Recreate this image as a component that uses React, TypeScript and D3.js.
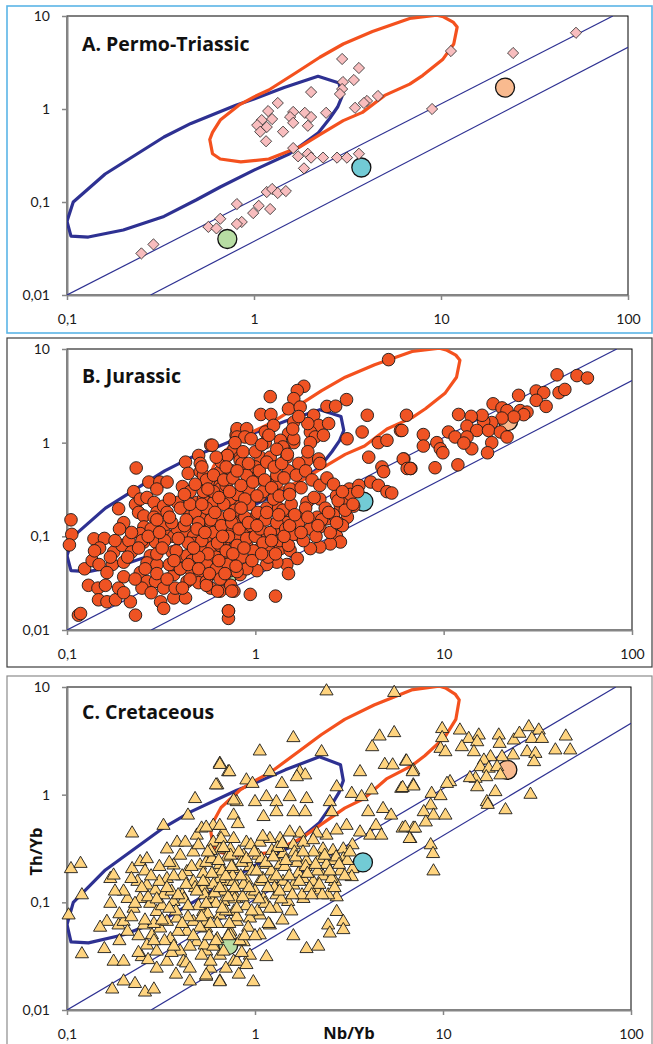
import { useEffect, useRef } from 'react';
import * as d3 from 'd3';

// Axis ticks (Excel style, comma decimals)
const X_TICKS = [0.1, 1, 10, 100];
const Y_TICKS = [0.01, 0.1, 1, 10];

// Outlined fields [Nb/Yb, Th/Yb]
const BLUE_FIELD: [number, number][] = [
  [0.1, 0.062], [0.108, 0.1], [0.16, 0.2], [0.33, 0.5], [0.46, 0.7], [0.8, 1.1], [1.0, 1.28],
  [1.45, 1.7], [2.2, 2.25], [2.85, 1.9], [2.95, 1.35], [2.8, 1.05], [2.55, 0.8], [2.2, 0.55],
  [1.55, 0.33], [1.0, 0.22], [0.66, 0.145], [0.49, 0.105], [0.33, 0.07], [0.2, 0.05],
  [0.13, 0.042], [0.105, 0.043],
];
const ORANGE_FIELD: [number, number][] = [
  [0.58, 0.47], [0.6, 0.56], [0.66, 0.76], [0.83, 1.1], [1.0, 1.35], [1.2, 1.6], [1.7, 2.5],
  [2.25, 3.6], [3.0, 5.0], [4.3, 6.8], [6.8, 9.4], [9.5, 10.2], [10.3, 9.8], [11.6, 8.6],
  [12.2, 7.6], [11.7, 5.0], [10.2, 3.4], [8.0, 2.3], [6.8, 1.85], [5.0, 1.4], [3.8, 0.92],
  [3.0, 0.75], [2.25, 0.53], [1.75, 0.39], [1.2, 0.29], [0.85, 0.27], [0.66, 0.29], [0.6, 0.33],
];
// MORB-OIB array boundaries
const ARRAY_UPPER: [number, number][] = [[0.1, 0.01], [83, 10]];
const ARRAY_LOWER: [number, number][] = [[0.28, 0.01], [100, 4.6]];

// reference compositions
const REFERENCES = [
  { name: 'N-MORB', nb: 0.72, th: 0.04, fill: '#B7DDA3' },
  { name: 'E-MORB', nb: 3.75, th: 0.235, fill: '#72CBD5' },
  { name: 'OIB', nb: 22, th: 1.7, fill: '#F9BA8F' },
];

const PERMO_TRIASSIC: [number, number][] = [
  [2.96, 3.45], [3.64, 2.76], [2.99, 1.95], [3.42, 2.05], [2.96, 1.64], [2.88, 1.45], [4.6, 1.38],
  [4.02, 1.22], [3.87, 1.16], [3.47, 1.03], [2.02, 1.52], [1.34, 1.16], [1.19, 0.95], [1.62, 0.93],
  [1.87, 0.91], [2.43, 0.91], [2.02, 0.82], [1.56, 0.82], [1.1, 0.76], [1.25, 0.78], [1.04, 0.67],
  [1.17, 0.64], [1.62, 0.71], [1.94, 0.66], [1.08, 0.57], [1.43, 0.57], [1.16, 0.45], [1.62, 0.38],
  [1.72, 0.31], [1.94, 0.33], [2.02, 0.3], [2.34, 0.3], [2.78, 0.3], [3.14, 0.3], [3.64, 0.33],
  [1.85, 0.23], [1.17, 0.128], [1.25, 0.138], [1.34, 0.125], [1.48, 0.131], [0.81, 0.095],
  [1.06, 0.091], [1.22, 0.084], [0.99, 0.076], [0.86, 0.061], [0.81, 0.058], [0.66, 0.066],
  [0.57, 0.054], [0.63, 0.052], [0.29, 0.035], [0.25, 0.028], [11.3, 4.2], [24.3, 4.0],
  [52.7, 6.6], [8.96, 1.0],
];

const JURASSIC: [number, number][] = [
  // low Nb/Yb
  [0.105, 0.15], [0.106, 0.105], [0.103, 0.081], [0.115, 0.0144], [0.118, 0.015], [0.139, 0.094],
  [0.158, 0.095], [0.149, 0.075], [0.124, 0.045], [0.136, 0.055], [0.148, 0.05], [0.13, 0.03],
  [0.146, 0.028], [0.147, 0.021], [0.163, 0.02], [0.181, 0.021], [0.177, 0.068], [0.174, 0.05],
  [0.163, 0.041], [0.188, 0.197], [0.196, 0.08], [0.2, 0.053], [0.2, 0.037], [0.188, 0.028],
  [0.217, 0.02], [0.231, 0.0144], [0.213, 0.09], [0.22, 0.068], [0.233, 0.537], [0.226, 0.3],
  [0.231, 0.22], [0.245, 0.25], [0.266, 0.26], [0.272, 0.38], [0.311, 0.38], [0.34, 0.38],
  [0.24, 0.18], [0.256, 0.165], [0.29, 0.23], [0.3, 0.18], [0.326, 0.21], [0.34, 0.18],
  [0.256, 0.126], [0.245, 0.107], [0.29, 0.16], [0.326, 0.126], [0.347, 0.1], [0.256, 0.087],
  [0.295, 0.087], [0.277, 0.062], [0.266, 0.052], [0.3, 0.05], [0.245, 0.041], [0.266, 0.033],
  [0.25, 0.028], [0.295, 0.033], [0.326, 0.028], [0.314, 0.02], [0.326, 0.017], [0.369, 0.022],
  [0.375, 0.028], [0.426, 0.022], [0.369, 0.039], [0.4, 0.045], [0.362, 0.05], [0.362, 0.068],
  [0.4, 0.062], [0.369, 0.1], [0.385, 0.12], [0.434, 0.11], [0.385, 0.23], [0.41, 0.34],
  [0.426, 0.62], [0.44, 0.47], [0.5, 0.73], [0.51, 0.6], [0.58, 0.94], [0.51, 0.49], [0.53, 0.38],
  [0.58, 0.36], [0.65, 0.35], [0.65, 0.49], [0.66, 0.62], [0.71, 0.73], [0.77, 0.86], [0.8, 1.35],
  [0.79, 1.2], [0.83, 0.7], [0.45, 0.3], [0.49, 0.23], [0.53, 0.25], [0.59, 0.3], [0.66, 0.28],
  [0.74, 0.25], [0.77, 0.2], [0.45, 0.165], [0.53, 0.16], [0.59, 0.165], [0.65, 0.16], [0.74, 0.16],
  [0.82, 0.16], [0.47, 0.1], [0.51, 0.13], [0.58, 0.126], [0.65, 0.1], [0.74, 0.12], [0.8, 0.1],
  [0.47, 0.084], [0.53, 0.074], [0.59, 0.077], [0.68, 0.084], [0.77, 0.074], [0.434, 0.062],
  [0.49, 0.06], [0.55, 0.053], [0.62, 0.06], [0.71, 0.053], [0.8, 0.058], [0.45, 0.045],
  [0.51, 0.039], [0.59, 0.04], [0.68, 0.035], [0.74, 0.043], [0.83, 0.039], [0.434, 0.033],
  [0.5, 0.032], [0.58, 0.028], [0.65, 0.026], [0.74, 0.03], [0.77, 0.026], [0.72, 0.016],
  [0.72, 0.0133],
  // middle Nb/Yb
  [5.1, 7.7], [1.81, 4.0], [1.67, 3.6], [1.6, 2.95], [1.2, 3.1], [1.5, 2.3], [1.73, 2.4], [2.4, 2.44],
  [2.67, 2.45], [3.05, 2.88], [3.93, 1.96], [6.35, 1.96], [1.07, 2.0], [1.21, 2.0], [0.8, 1.41],
  [0.9, 1.41], [0.8, 1.15], [0.88, 1.15], [1.13, 1.3], [1.13, 1.0], [1.25, 1.53], [1.6, 1.66],
  [1.5, 1.25], [1.36, 1.06], [1.6, 1.0], [2.04, 1.96], [2.17, 1.53], [2.45, 1.6], [1.96, 1.3],
  [2.08, 1.15], [1.96, 1.0], [3.07, 1.1], [3.69, 1.3], [5.9, 1.35], [0.59, 0.94], [0.71, 0.73],
  [0.83, 0.65], [1.06, 0.7], [1.42, 0.86], [1.47, 0.7], [1.88, 0.65], [2.17, 0.67], [2.2, 0.6],
  [4.0, 0.7], [4.5, 1.0], [5.0, 1.06], [6.15, 0.67], [6.7, 0.53], [4.7, 0.55], [4.8, 0.49],
  [0.94, 0.49], [1.06, 0.41], [1.23, 0.38], [0.92, 0.32], [1.06, 0.27], [1.53, 0.32], [1.3, 0.37],
  [0.75, 0.43], [0.65, 0.32], [0.53, 0.45], [0.53, 0.3], [0.6, 0.23], [0.74, 0.25], [0.83, 0.21],
  [0.8, 0.16], [0.98, 0.155], [1.15, 0.2], [1.33, 0.2], [1.53, 0.17], [1.88, 0.23], [2.2, 0.25],
  [2.7, 0.27], [3.15, 0.32], [3.55, 0.35], [4.1, 0.38], [4.5, 0.35], [5.0, 0.3], [5.3, 0.29],
  [2.83, 0.21], [3.15, 0.24], [3.33, 0.21], [3.08, 0.16], [2.78, 0.137], [2.7, 0.1], [2.83, 0.087],
  [2.5, 0.083], [2.2, 0.077], [1.96, 0.074], [1.74, 0.1], [1.96, 0.12], [2.2, 0.126], [2.4, 0.154],
  [2.13, 0.16], [1.81, 0.165], [1.67, 0.13], [1.47, 0.14], [1.3, 0.12], [1.1, 0.1], [0.98, 0.11],
  [0.87, 0.12], [0.77, 0.14], [0.65, 0.12], [0.58, 0.14], [0.55, 0.1], [0.65, 0.08], [0.77, 0.074],
  [0.9, 0.08], [1.06, 0.074], [1.2, 0.077], [1.36, 0.074], [1.53, 0.071], [1.67, 0.058],
  [1.47, 0.05], [1.3, 0.053], [1.15, 0.05], [1.02, 0.043], [0.9, 0.045], [0.8, 0.042], [0.71, 0.05],
  [0.62, 0.042], [0.55, 0.033], [0.63, 0.026], [0.75, 0.026], [0.94, 0.024], [1.28, 0.023],
  [1.5, 0.04], [0.72, 0.016],
  // dense core
  [0.28, 0.12], [0.3, 0.15], [0.33, 0.09], [0.36, 0.14], [0.38, 0.07], [0.4, 0.2], [0.42, 0.13],
  [0.44, 0.085], [0.46, 0.055], [0.48, 0.18], [0.5, 0.14], [0.52, 0.09], [0.55, 0.2], [0.56, 0.065],
  [0.58, 0.15], [0.6, 0.11], [0.62, 0.045], [0.63, 0.085], [0.66, 0.13], [0.68, 0.22], [0.7, 0.07],
  [0.72, 0.1], [0.75, 0.14], [0.78, 0.19], [0.8, 0.08], [0.82, 0.12], [0.85, 0.06], [0.88, 0.16],
  [0.9, 0.095], [0.93, 0.22], [0.95, 0.13], [0.98, 0.07], [1.0, 0.1], [1.03, 0.18], [1.06, 0.12],
  [1.1, 0.085], [1.13, 0.15], [1.17, 0.06], [1.2, 0.11], [1.25, 0.25], [1.3, 0.14], [1.35, 0.09],
  [1.4, 0.19], [1.45, 0.12], [1.5, 0.08], [1.55, 0.22], [1.6, 0.105], [1.7, 0.14], [1.8, 0.09],
  [1.85, 0.2], [1.95, 0.12], [2.05, 0.26], [2.1, 0.1], [2.25, 0.15], [2.35, 0.2], [2.5, 0.11],
  [2.6, 0.17], [2.75, 0.24], [2.9, 0.13], [3.0, 0.19], [3.2, 0.28], [0.35, 0.05], [0.45, 0.035],
  [0.55, 0.03], [0.65, 0.035], [0.3, 0.065], [0.4, 0.045], [0.5, 0.06], [0.25, 0.09], [0.22, 0.11],
  [0.2, 0.14], [0.18, 0.09], [0.6, 0.3], [0.7, 0.35], [0.8, 0.28], [0.9, 0.45], [1.0, 0.55],
  [1.1, 0.3], [1.2, 0.7], [1.4, 0.9], [1.6, 1.1], [0.85, 0.6], [0.75, 0.5], [0.55, 0.4],
  [0.45, 0.22], [0.35, 0.25], [0.3, 0.32], [1.3, 0.45], [1.5, 0.5], [1.7, 0.6], [1.9, 0.8],
  [0.42, 0.28], [0.48, 0.36], [0.52, 0.55], [0.56, 0.32], [0.6, 0.45], [0.62, 0.7], [0.64, 0.26],
  [0.68, 0.4], [0.7, 0.55], [0.73, 0.3], [0.76, 0.42], [0.78, 1.0], [0.8, 0.5], [0.84, 0.35],
  [0.86, 0.8], [0.88, 0.25], [0.92, 0.6], [0.95, 1.1], [0.97, 0.38], [1.0, 0.8], [1.02, 0.27],
  [1.05, 0.5], [1.08, 0.95], [1.12, 0.4], [1.15, 0.62], [1.18, 1.2], [1.22, 0.33], [1.26, 0.55],
  [1.3, 0.85], [1.34, 0.27], [1.38, 0.6], [1.42, 0.42], [1.48, 0.75], [1.52, 0.28], [1.58, 1.4],
  [1.65, 0.45], [1.75, 0.33], [1.85, 0.5], [2.0, 0.4], [2.2, 0.35], [2.4, 0.42], [2.6, 0.36],
  [1.9, 1.6], [2.3, 1.2], [1.7, 1.9],
  [0.21, 0.06], [0.23, 0.035], [0.24, 0.075], [0.26, 0.045], [0.27, 0.1], [0.28, 0.025], [0.3, 0.04],
  [0.31, 0.11], [0.32, 0.075], [0.34, 0.035], [0.35, 0.16], [0.37, 0.055], [0.39, 0.095],
  [0.41, 0.028], [0.43, 0.15], [0.44, 0.05], [0.47, 0.075], [0.49, 0.12], [0.5, 0.045], [0.52, 0.22],
  [0.54, 0.11], [0.57, 0.04], [0.61, 0.18], [0.64, 0.055], [0.67, 0.1], [0.69, 0.04], [0.73, 0.17],
  [0.76, 0.065], [0.79, 0.048], [0.84, 0.2], [0.87, 0.075], [0.92, 0.14], [0.96, 0.055], [1.02, 0.13],
  [1.08, 0.065], [1.15, 0.18], [1.22, 0.09], [1.28, 0.065], [1.33, 0.17], [1.42, 0.1], [1.52, 0.13],
  [1.62, 0.17], [1.75, 0.11], [1.9, 0.16], [2.15, 0.13], [2.45, 0.18], [2.7, 0.14], [3.3, 0.22],
  [3.5, 0.3], [2.9, 0.3], [0.19, 0.12], [0.17, 0.06], [0.16, 0.03], [0.2, 0.025], [0.14, 0.07],
  // high Nb/Yb
  [40, 5.3], [51, 5.2], [58, 4.9], [31, 3.56], [34, 3.42], [41, 3.42], [44, 3.7], [31, 2.83],
  [35, 2.44], [25, 3.2], [18.3, 2.6], [20.4, 2.35], [21.7, 2.2], [25.5, 2.2], [27.7, 2.12],
  [26.6, 1.99], [23.6, 1.88], [20.4, 1.83], [18, 1.64], [16.3, 1.69], [16, 1.96], [14, 1.91],
  [12, 2.0], [13.3, 1.5], [15, 1.35], [17.3, 1.35], [20, 1.3], [21.7, 1.15], [10.6, 1.3],
  [11.5, 1.15], [13.3, 1.15], [14.1, 0.86], [12.8, 0.99], [7.8, 1.22], [7.8, 0.92], [9.2, 1.0],
  [9.6, 0.86], [9.9, 0.78], [18, 1.0], [17.1, 0.78], [9.0, 0.54], [11.9, 0.58], [6.0, 1.35],
  [6.1, 0.67], [6.4, 0.53], [6.65, 0.53],
];

const CRETACEOUS: [number, number][] = [
  // low Nb/Yb
  [0.105, 0.21], [0.118, 0.235], [0.12, 0.12], [0.102, 0.078], [0.12, 0.034], [0.222, 0.45],
  [0.17, 0.17], [0.177, 0.183], [0.163, 0.068], [0.188, 0.063], [0.2, 0.068], [0.158, 0.038],
  [0.177, 0.029], [0.2, 0.029], [0.174, 0.016], [0.2, 0.019], [0.23, 0.018], [0.26, 0.015],
  [0.29, 0.016], [0.21, 0.111], [0.226, 0.09], [0.245, 0.111], [0.222, 0.21], [0.245, 0.244],
  [0.266, 0.26], [0.237, 0.16], [0.266, 0.148], [0.295, 0.133], [0.277, 0.1], [0.3, 0.084],
  [0.256, 0.063], [0.283, 0.051], [0.266, 0.041], [0.3, 0.036], [0.313, 0.059], [0.326, 0.53],
  [0.34, 0.32], [0.385, 0.37], [0.426, 0.37], [0.369, 0.227], [0.34, 0.17], [0.434, 0.197],
  [0.326, 0.12], [0.369, 0.104], [0.41, 0.12], [0.34, 0.068], [0.385, 0.073], [0.434, 0.055],
  [0.355, 0.047], [0.4, 0.036], [0.416, 0.029], [0.34, 0.029], [0.47, 0.16], [0.51, 0.227],
  [0.49, 0.43], [0.44, 0.66], [0.48, 0.94], [0.52, 0.5], [0.63, 1.26], [0.65, 2.0], [0.72, 1.67],
  [0.6, 0.53], [0.6, 0.37], [0.58, 0.28], [0.53, 0.138], [0.6, 0.104], [0.53, 0.084], [0.47, 0.068],
  [0.55, 0.059], [0.49, 0.044], [0.55, 0.036], [0.45, 0.019], [0.55, 0.021], [0.65, 0.019],
  [0.58, 0.025], [0.65, 0.21], [0.71, 0.16], [0.77, 0.12], [0.77, 0.084], [0.74, 0.055],
  [0.65, 0.033], [0.77, 0.029], [0.8, 0.88], [0.77, 0.66], [0.74, 0.32], [0.68, 0.46],
  // middle Nb/Yb
  [2.4, 9.4], [5.5, 9.1], [1.6, 3.46], [1.06, 2.6], [2.26, 2.56], [4.6, 3.58], [5.5, 3.85],
  [4.2, 2.85], [4.9, 1.95], [5.4, 1.93], [6.35, 2.1], [6.95, 1.73], [0.65, 1.95], [0.73, 1.67],
  [0.62, 1.26], [1.2, 1.67], [0.9, 1.4], [0.97, 1.3], [1.73, 1.67], [1.85, 1.56], [1.67, 1.5],
  [1.39, 1.3], [3.62, 1.67], [2.72, 1.21], [3.27, 1.05], [3.69, 0.98], [4.17, 1.13], [6.0, 1.17],
  [6.95, 1.26], [0.77, 0.91], [1.0, 0.88], [1.15, 0.98], [1.3, 0.88], [1.53, 0.98], [1.88, 0.94],
  [1.85, 0.71], [2.5, 0.88], [2.56, 0.71], [1.6, 0.71], [1.3, 0.71], [1.11, 0.64], [0.81, 0.55],
  [0.65, 0.53], [0.55, 0.51], [4.0, 0.71], [4.8, 0.76], [5.3, 0.66], [4.4, 0.53], [4.1, 0.43],
  [4.7, 0.43], [6.1, 0.5], [6.95, 0.5], [6.7, 0.4], [3.62, 0.46], [3.07, 0.53], [2.72, 0.48],
  [2.4, 0.43], [2.13, 0.45], [1.73, 0.45], [1.53, 0.46], [1.36, 0.4], [1.2, 0.4], [1.06, 0.37],
  [0.9, 0.37], [0.77, 0.4], [0.65, 0.32], [0.58, 0.31], [0.71, 0.27], [0.87, 0.28], [1.04, 0.28],
  [1.23, 0.31], [1.41, 0.29], [1.6, 0.35], [1.81, 0.37], [2.04, 0.39], [2.3, 0.32], [2.6, 0.31],
  [2.95, 0.32], [3.3, 0.35], [2.95, 0.26], [2.6, 0.25], [2.2, 0.26], [1.88, 0.25], [1.67, 0.24],
  [1.36, 0.23], [1.15, 0.23], [0.94, 0.22], [0.77, 0.21], [0.65, 0.23], [0.55, 0.24], [3.3, 0.21],
  [3.27, 0.177], [2.66, 0.16], [2.3, 0.18], [2.04, 0.16], [1.81, 0.17], [1.6, 0.148], [1.41, 0.16],
  [1.23, 0.17], [1.06, 0.16], [0.9, 0.165], [0.77, 0.16], [0.65, 0.17], [0.55, 0.16], [2.72, 0.115],
  [2.45, 0.12], [2.13, 0.133], [1.81, 0.111], [1.5, 0.104], [1.3, 0.12], [1.11, 0.111], [0.94, 0.12],
  [0.8, 0.111], [0.68, 0.104], [0.58, 0.111], [2.72, 0.084], [2.95, 0.068], [2.45, 0.063],
  [2.5, 0.053], [2.95, 0.057], [1.88, 0.038], [2.17, 0.04], [1.3, 0.09], [1.06, 0.078], [1.2, 0.063],
  [0.94, 0.073], [0.8, 0.068], [0.65, 0.078], [0.55, 0.068], [1.06, 0.051], [0.87, 0.044],
  [0.74, 0.051], [0.63, 0.047], [0.54, 0.041], [1.15, 0.032], [0.94, 0.033], [0.8, 0.029],
  [0.68, 0.036], [0.58, 0.029], [0.55, 0.0216], [0.65, 0.0187], [0.82, 0.022], [0.98, 0.0187],
  [0.9, 0.027],
  // dense core
  [0.2, 0.13], [0.22, 0.075], [0.24, 0.05], [0.26, 0.2], [0.27, 0.115], [0.29, 0.065], [0.31, 0.16],
  [0.32, 0.095], [0.33, 0.045], [0.35, 0.24], [0.36, 0.13], [0.38, 0.085], [0.39, 0.055], [0.41, 0.18],
  [0.42, 0.11], [0.44, 0.075], [0.45, 0.04], [0.47, 0.3], [0.48, 0.14], [0.5, 0.095], [0.51, 0.06],
  [0.53, 0.19], [0.54, 0.12], [0.56, 0.08], [0.57, 0.05], [0.59, 0.26], [0.6, 0.15], [0.62, 0.1],
  [0.63, 0.065], [0.66, 0.4], [0.67, 0.2], [0.69, 0.13], [0.7, 0.085], [0.72, 0.05], [0.74, 0.28],
  [0.76, 0.18], [0.78, 0.11], [0.8, 0.075], [0.83, 0.045], [0.85, 0.24], [0.87, 0.15], [0.9, 0.095],
  [0.92, 0.06], [0.95, 0.35], [0.97, 0.2], [1.0, 0.13], [1.03, 0.085], [1.08, 0.26], [1.1, 0.17],
  [1.13, 0.1], [1.18, 0.065], [1.22, 0.2], [1.27, 0.14], [1.32, 0.33], [1.38, 0.11], [1.44, 0.22],
  [1.5, 0.14], [1.56, 0.085], [1.62, 0.3], [1.7, 0.19], [1.78, 0.12], [1.86, 0.22], [1.95, 0.14],
  [2.05, 0.3], [2.15, 0.2], [2.28, 0.12], [2.4, 0.23], [2.55, 0.17], [2.7, 0.27], [2.85, 0.2],
  [3.1, 0.25], [0.17, 0.1], [0.15, 0.06], [0.19, 0.045], [0.25, 0.032], [0.3, 0.025], [0.36, 0.035],
  [0.43, 0.028], [0.52, 0.033], [0.6, 0.04],
  [0.18, 0.13], [0.19, 0.08], [0.21, 0.055], [0.22, 0.17], [0.23, 0.1], [0.24, 0.035], [0.25, 0.14],
  [0.26, 0.07], [0.28, 0.18], [0.29, 0.045], [0.3, 0.11], [0.31, 0.22], [0.32, 0.07], [0.34, 0.14],
  [0.35, 0.09], [0.37, 0.18], [0.37, 0.04], [0.39, 0.12], [0.4, 0.28], [0.41, 0.065], [0.43, 0.15],
  [0.44, 0.095], [0.46, 0.22], [0.47, 0.05], [0.49, 0.13], [0.5, 0.35], [0.52, 0.075], [0.53, 0.16],
  [0.55, 0.1], [0.56, 0.3], [0.58, 0.065], [0.59, 0.19], [0.61, 0.125], [0.62, 0.045], [0.64, 0.25],
  [0.65, 0.14], [0.67, 0.09], [0.68, 0.33], [0.7, 0.18], [0.72, 0.115], [0.73, 0.065], [0.75, 0.22],
  [0.78, 0.14], [0.8, 0.09], [0.82, 0.3], [0.84, 0.18], [0.86, 0.115], [0.88, 0.05], [0.9, 0.26],
  [0.93, 0.14], [0.96, 0.085], [0.99, 0.3], [1.02, 0.2], [1.05, 0.11], [1.1, 0.42], [1.14, 0.24],
  [1.17, 0.14], [1.2, 0.09], [1.25, 0.27], [1.3, 0.18], [1.35, 0.13], [1.4, 0.36], [1.46, 0.25],
  [1.52, 0.18], [1.58, 0.12], [1.65, 0.27], [1.72, 0.16], [1.8, 0.3], [1.9, 0.19], [2.0, 0.12],
  [2.1, 0.23], [2.2, 0.15], [2.35, 0.28], [2.5, 0.2], [2.65, 0.14], [2.8, 0.23], [3.0, 0.18],
  [3.2, 0.3], [0.45, 0.025], [0.38, 0.022], [0.7, 0.025], [0.85, 0.035], [0.27, 0.03], [1.0, 0.05],
  [1.4, 0.07], [1.6, 0.05],
  // high Nb/Yb
  [9.9, 4.2], [9.9, 3.46], [9.7, 2.75], [10.3, 2.56], [12.3, 4.07], [13.7, 3.4], [15.5, 3.66],
  [15.2, 3.17], [12.6, 2.85], [14.6, 2.56], [19.8, 3.66], [20, 3.06], [23.8, 3.29], [25.5, 3.8],
  [28.6, 4.37], [32.3, 4.07], [29.7, 3.4], [33.6, 3.4], [45, 3.58], [39.6, 2.66], [47.5, 2.66],
  [28, 2.56], [31, 2.47], [30.5, 2.07], [23.6, 2.39], [20.6, 2.3], [17.9, 2.3], [16.5, 2.14],
  [15.8, 1.86], [17.5, 1.8], [19.4, 1.86], [20.2, 1.56], [17, 1.5], [14.9, 1.45], [13.9, 1.47],
  [15.2, 1.21], [19, 1.09], [17.1, 0.88], [17.3, 0.83], [21.5, 0.74], [29.2, 1.03], [10.9, 1.35],
  [10.5, 1.3], [8.7, 1.05], [9.7, 1.0], [8.6, 0.82], [7.9, 0.71], [8.9, 0.66], [10.3, 0.66],
  [8.1, 0.57], [6.3, 0.51], [7.1, 0.5], [6.65, 0.4], [8.6, 0.35], [8.85, 0.29], [8.9, 0.2],
  [6.4, 2.1], [6.9, 1.67], [6.1, 1.19], [6.97, 1.23],
];

const FONT = 'Lato, "Open Sans", sans-serif';
const BOLD_FONT = '"Open Sans", Lato, sans-serif';

const PANELS = [
  {
    id: 'A', title: 'A. Permo-Triassic', data: PERMO_TRIASSIC, marker: 'diamond',
    frame: { x: 7, y: 6, w: 645, h: 327, color: '#5AB5E6', width: 1.6 },
    plot: { left: 67, right: 628, top: 16, bottom: 295 }, titleY: 51, axisTitles: false,
  },
  {
    id: 'B', title: 'B. Jurassic', data: JURASSIC, marker: 'circle',
    frame: { x: 7, y: 338, w: 645, h: 329, color: '#3c3c3c', width: 1.2 },
    plot: { left: 67, right: 632, top: 349, bottom: 630 }, titleY: 383, axisTitles: false,
  },
  {
    id: 'C', title: 'C. Cretaceous', data: CRETACEOUS, marker: 'triangle',
    frame: { x: 7, y: 676, w: 645, h: 380, color: '#8c8c8c', width: 1.2 },
    plot: { left: 67, right: 631, top: 687, bottom: 1010 }, titleY: 719, axisTitles: true,
  },
];

const fmt = (v: number) => String(v).replace('.', ',');

export default function App() {
  const svgRef = useRef<SVGSVGElement>(null);

  useEffect(() => {
    const svg = d3.select(svgRef.current);
    svg.selectAll('*').remove();

    PANELS.forEach(p => {
      const { left, right, top, bottom } = p.plot;
      const x = d3.scaleLog().domain([0.1, 100]).range([left, right]);
      const y = d3.scaleLog().domain([0.01, 10]).range([bottom, top]);
      const g = svg.append('g');

      // panel frame
      g.append('rect')
        .attr('x', p.frame.x).attr('y', p.frame.y)
        .attr('width', p.frame.w).attr('height', p.frame.h)
        .attr('fill', '#fff')
        .attr('stroke', p.frame.color).attr('stroke-width', p.frame.width);

      // plot area border
      g.append('rect')
        .attr('x', left).attr('y', top)
        .attr('width', right - left).attr('height', bottom - top)
        .attr('fill', '#fff').attr('stroke', '#000').attr('stroke-width', 1);

      // axes
      g.append('g')
        .attr('transform', `translate(0,${bottom})`)
        .call(d3.axisBottom(x).tickValues(X_TICKS).tickFormat(fmt).tickSize(5).tickSizeOuter(0).tickPadding(14))
        .call(a => a.select('.domain').attr('stroke', '#868686').attr('stroke-width', 2))
        .call(a => a.selectAll('.tick line').attr('stroke', '#868686').attr('stroke-width', 1.5))
        .call(a => a.selectAll('.tick text').attr('fill', '#1a1a1a').attr('font-size', 14).attr('font-family', FONT));

      g.append('g')
        .attr('transform', `translate(${left},0)`)
        .call(d3.axisLeft(y).tickValues(Y_TICKS).tickFormat(fmt).tickSize(5).tickSizeOuter(0).tickPadding(12))
        .call(a => a.select('.domain').attr('stroke', '#868686').attr('stroke-width', 2))
        .call(a => a.selectAll('.tick line').attr('stroke', '#868686').attr('stroke-width', 1.5))
        .call(a => a.selectAll('.tick text').attr('fill', '#1a1a1a').attr('font-size', 14).attr('font-family', FONT));

      // clipped fields and array lines
      const clipId = `clip-${p.id}`;
      svg.append('clipPath').attr('id', clipId)
        .append('rect').attr('x', left).attr('y', top)
        .attr('width', right - left).attr('height', bottom - top);
      const inner = g.append('g').attr('clip-path', `url(#${clipId})`);

      const line = d3.line<[number, number]>().x(d => x(d[0])).y(d => y(d[1]));
      [ARRAY_UPPER, ARRAY_LOWER].forEach(l => {
        inner.append('path').attr('d', line(l)).attr('fill', 'none')
          .attr('stroke', '#2E3192').attr('stroke-width', 1.2);
      });
      const closed = d3.line<[number, number]>().x(d => x(d[0])).y(d => y(d[1])).curve(d3.curveLinearClosed);
      inner.append('path').attr('d', closed(BLUE_FIELD)).attr('fill', 'none')
        .attr('stroke', '#2E3192').attr('stroke-width', 3.2).attr('stroke-linejoin', 'round');
      inner.append('path').attr('d', closed(ORANGE_FIELD)).attr('fill', 'none')
        .attr('stroke', '#F4511E').attr('stroke-width', 3.2).attr('stroke-linejoin', 'round');

      // reference compositions
      g.selectAll('.ref').data(REFERENCES).join('circle')
        .attr('cx', d => x(d.nb)).attr('cy', d => y(d.th)).attr('r', 9.5)
        .attr('fill', d => d.fill).attr('stroke', '#111').attr('stroke-width', 1.3);

      // samples
      const pts = g.append('g');
      if (p.marker === 'diamond') {
        pts.selectAll('path').data(p.data).join('path')
          .attr('transform', d => `translate(${x(d[0])},${y(d[1])})`)
          .attr('d', 'M0,-5.6L5.6,0L0,5.6L-5.6,0Z')
          .attr('fill', '#F8BDBE').attr('stroke', '#222').attr('stroke-width', 0.8);
      } else if (p.marker === 'circle') {
        pts.selectAll('circle').data(p.data).join('circle')
          .attr('cx', d => x(d[0])).attr('cy', d => y(d[1])).attr('r', 6.3)
          .attr('fill', '#EF5323').attr('stroke', '#1a1a1a').attr('stroke-width', 0.9);
      } else {
        pts.selectAll('path').data(p.data).join('path')
          .attr('transform', d => `translate(${x(d[0])},${y(d[1])})`)
          .attr('d', 'M0,-6.2L6.6,5L-6.6,5Z')
          .attr('fill', '#FFD47F').attr('stroke', '#1a1a1a').attr('stroke-width', 0.9)
          .attr('stroke-linejoin', 'round');
      }

      // panel title
      g.append('text').attr('x', 82).attr('y', p.titleY)
        .attr('font-family', BOLD_FONT).attr('font-weight', 700).attr('font-size', 19.5)
        .attr('fill', '#111').text(p.title);

      if (p.axisTitles) {
        g.append('text').attr('x', 349).attr('y', bottom + 29)
          .attr('text-anchor', 'middle').attr('font-family', BOLD_FONT)
          .attr('font-weight', 700).attr('font-size', 16.5).attr('fill', '#111').text('Nb/Yb');
        g.append('text')
          .attr('transform', `translate(42,${(top + bottom) / 2 + 3}) rotate(-90)`)
          .attr('text-anchor', 'middle').attr('font-family', BOLD_FONT)
          .attr('font-weight', 700).attr('font-size', 16.5).attr('fill', '#111').text('Th/Yb');
      }
    });
  }, []);

  return (
    <svg ref={svgRef} width={653} height={1044}
      style={{ position: 'absolute', left: 0, top: 0, display: 'block', background: '#fff' }} />
  );
}
